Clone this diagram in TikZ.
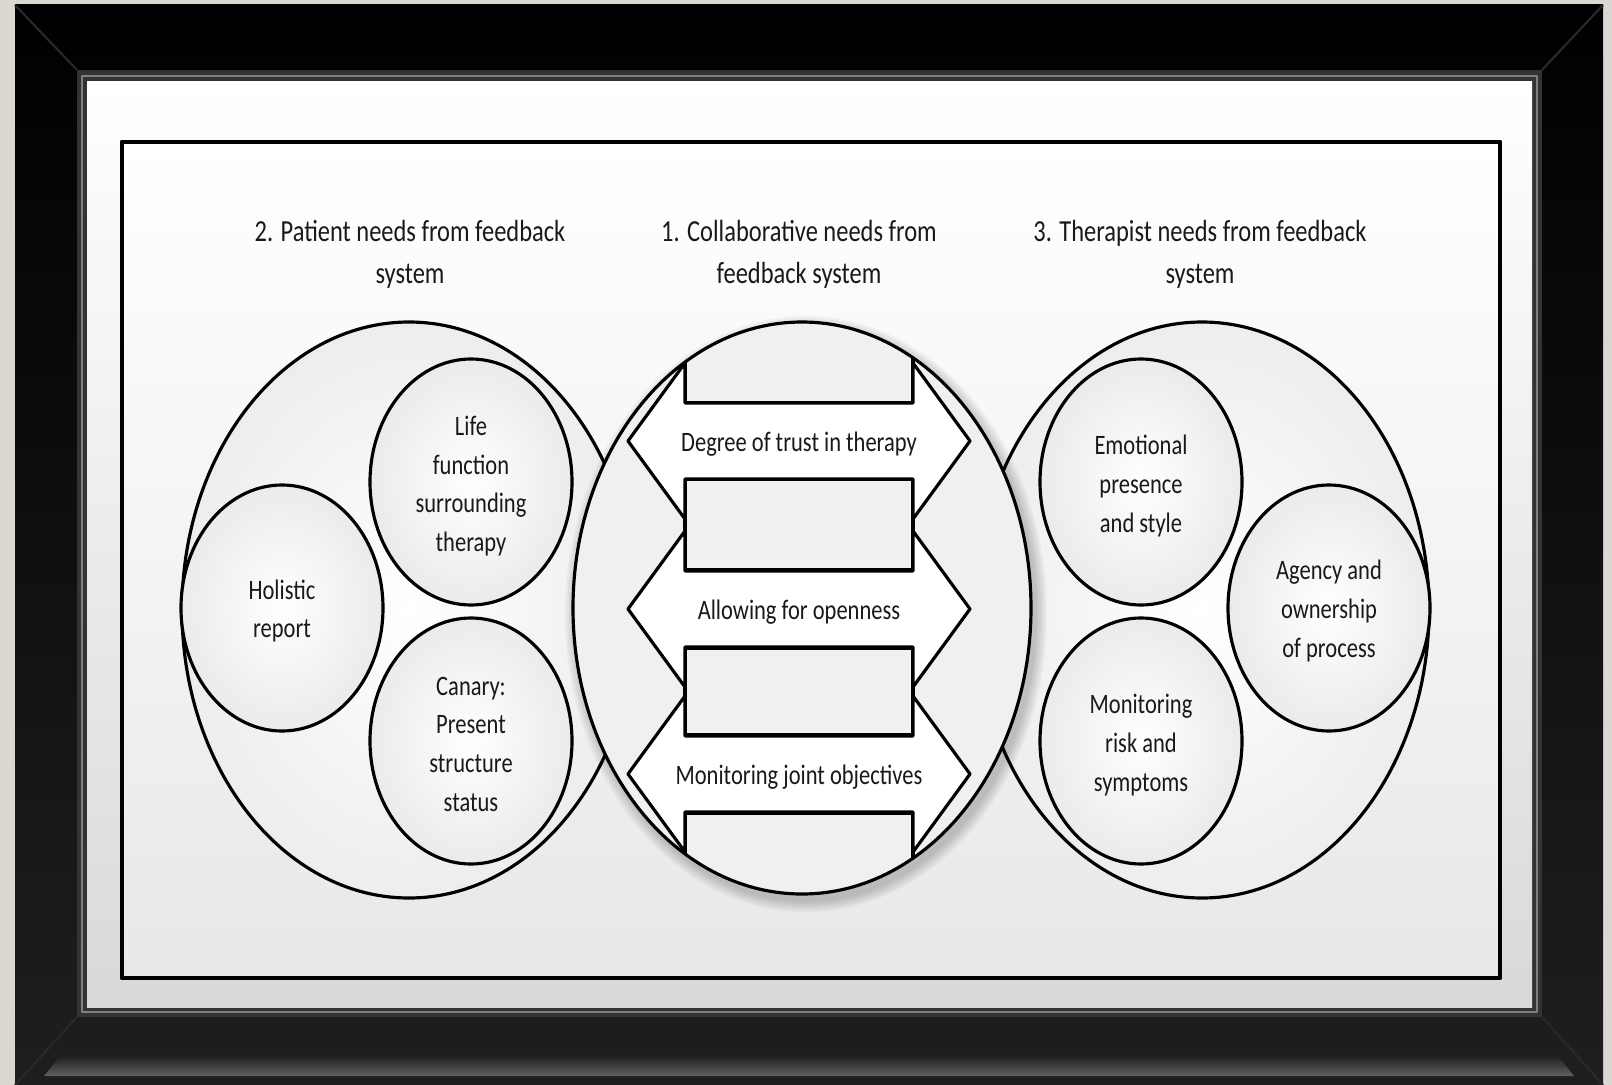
\documentclass[tikz,border=0pt]{standalone}
\usepackage{fontspec}
\newfontfamily\lblfont[FakeStretch=0.8]{Carlito}
\usetikzlibrary{calc}
\definecolor{wallgray}{RGB}{218,216,209}
\tikzset{
  big rx/.store in=\BigRX,
  big ry/.store in=\BigRY,
  small rx/.store in=\SmallRX,
  small ry/.store in=\SmallRY,
  big rx=227,
  big ry=288,
  small rx=101,
  small ry=123,
  ring/.style={draw=black, line width=0.9pt},
  subring/.style={ring, inner color=white, outer color=gray!16},
  boxline/.style={draw=black, line width=1.1pt, fill=gray!12},
  arrowline/.style={draw=black, line width=0.9pt, fill=white},
  txt/.style={font=\lblfont\fontsize{8}{11}\selectfont, text=black!90, align=center, inner sep=0pt},
  headtxt/.style={txt, font=\lblfont\fontsize{8.7}{11.95}\selectfont}
}

\begin{document}
\begin{tikzpicture}[x=0.01cm, y=-0.01cm, line join=round]
  \useasboundingbox (0,0) rectangle (1612,1085);
  \pgfmathsetmacro{\Shaft}{38} % half height of arrow shaft
  \pgfmathsetmacro{\Head}{78}  % half height of arrow head

  % Wall and black frame
  \fill[wallgray] (0,0) rectangle (1612,1085);
  \shade[top color=black, bottom color=black!88] (15,5) rectangle (1603,1085);
  \shade[top color=black!88, bottom color=black!62] (60,1056) -- (1558,1056) -- (1574,1076) -- (44,1076) -- cycle;
  \draw[black!84, line width=0.6pt] (15,5) -- (77,70) (1603,5) -- (1542,70)
    (15,1085) -- (77,1017) (1603,1085) -- (1542,1017);

  % Mat
  \fill[black!80] (77,70) rectangle (1542,1017);
  \draw[black!50, line width=0.6pt] (82,76) rectangle (1537,1012);
  \shade[top color=white, bottom color=gray!30] (87,82) rectangle (1532,1007);

  % Inner box
  \shade[top color=white, bottom color=gray!18] (122,142) rectangle (1500,978);
  \draw[line width=1.4pt] (122,142) rectangle (1500,978);

  % Centres of the three rings
  \coordinate (P) at (409,610);  % patient
  \coordinate (C) at (802,608);  % collaborative
  \coordinate (T) at (1202,610); % therapist

  % Sub circles
  \coordinate (Hol)  at (282,608);
  \coordinate (Life) at (471,482);
  \coordinate (Can)  at (471,741);
  \coordinate (Emo)  at (1141,482);
  \coordinate (Agy)  at (1329,608);
  \coordinate (Mon)  at (1141,741);

  % Outer rings, patient and therapist
  \draw[ring, inner color=white, outer color=gray!14] (P) ellipse ({\BigRX} and {\BigRY});
  \draw[ring, inner color=white, outer color=gray!14] (T) ellipse ({\BigRX} and {\BigRY});

  \foreach \c in {Hol,Life,Can,Emo,Agy,Mon}
    \draw[subring] (\c) ellipse ({\SmallRX} and {\SmallRY});

  % Soft shadow under the middle ring
  \foreach \k in {1,...,6}
    \fill[black, opacity=0.035] ($(C)+(4,6)$) ellipse ({229+2*\k} and {286+2*\k});
  \fill[gray!12] (C) ellipse (229 and 286);

  % Double arrow with centre height #1
  \newcommand{\TwoWay}[1]{%
    \draw[arrowline] (628,#1) -- (685,{#1-\Head}) -- (685,{#1-\Shaft})
      -- (913,{#1-\Shaft}) -- (913,{#1-\Head}) -- (970,#1)
      -- (913,{#1+\Head}) -- (913,{#1+\Shaft}) -- (685,{#1+\Shaft})
      -- (685,{#1+\Head}) -- cycle;%
  }

  \begin{scope}
    \clip (C) ellipse (229 and 286);
    \foreach \ya/\yb in {300/403, 479/570, 648/735, 813/930}
      \draw[boxline] (685,\ya) rectangle (913,\yb);
    \foreach \y in {441,609,774} {\TwoWay{\y}}
  \end{scope}
  \draw[ring] (C) ellipse (229 and 286);

  % Headings
  \node[headtxt] (hPat) at (410,254)  {2. Patient needs from feedback\\system};
  \node[headtxt] (hCol) at (799,254)  {1. Collaborative needs from\\feedback system};
  \node[headtxt] (hThe) at (1200,254) {3. Therapist needs from feedback\\system};

  % Arrow labels
  \node[txt] (aTrust) at (799,444) {Degree of trust in therapy};
  \node[txt] (aOpen)  at (799,612) {Allowing for openness};
  \node[txt] (aJoint) at (799,777) {Monitoring joint objectives};

  % Circle labels
  \node[txt] (tHol)  at ($(Hol)+(0,3)$)  {Holistic\\report};
  \node[txt] (tLife) at ($(Life)+(0,4)$) {Life\\function\\surrounding\\therapy};
  \node[txt] (tCan)  at ($(Can)+(0,3)$)  {Canary:\\Present\\structure\\status};
  \node[txt] (tEmo)  at ($(Emo)+(0,4)$)  {Emotional\\presence\\and style};
  \node[txt] (tAgy)  at ($(Agy)+(0,3)$)  {Agency and\\ownership\\of process};
  \node[txt] (tMon)  at ($(Mon)+(0,4)$)  {Monitoring\\risk and\\symptoms};
\end{tikzpicture}
\end{document}
